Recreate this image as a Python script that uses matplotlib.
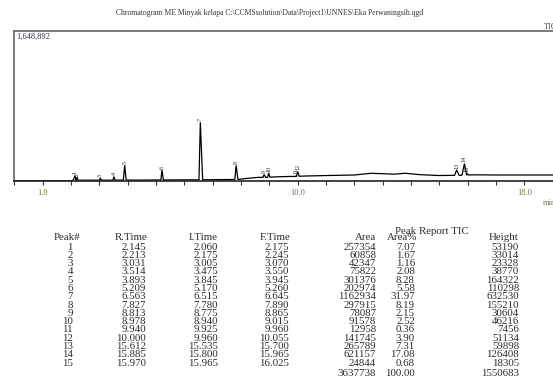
import matplotlib
matplotlib.use('Agg')
import matplotlib.pyplot as plt
from matplotlib.ticker import FixedLocator, MultipleLocator
import numpy as np

plt.rcParams['font.family'] = ['Liberation Serif', 'DejaVu Serif']

# peak report table
peak_no = [1, 2, 3, 4, 5, 6, 7, 8, 9, 10, 11, 12, 13, 14, 15]
r_time = [2.145, 2.213, 3.031, 3.514, 3.893, 5.209, 6.563, 7.827, 8.813, 8.978, 9.940, 10.000, 15.612, 15.885, 15.970]
i_time = [2.060, 2.175, 3.005, 3.475, 3.845, 5.170, 6.515, 7.780, 8.775, 8.940, 9.925, 9.960, 15.535, 15.800, 15.965]
f_time = [2.175, 2.245, 3.070, 3.550, 3.945, 5.260, 6.645, 7.890, 8.865, 9.015, 9.960, 10.055, 15.700, 15.965, 16.025]
area = [257354, 60858, 42347, 75822, 301376, 202974, 1162934, 297915, 78087, 91578, 12958, 141745, 265789, 621157, 24844]
area_pct = [7.07, 1.67, 1.16, 2.08, 8.28, 5.58, 31.97, 8.19, 2.15, 2.52, 0.36, 3.90, 7.31, 17.08, 0.68]
height = [53190, 33014, 23328, 38770, 164322, 110298, 632530, 155210, 30604, 46216, 7456, 51134, 59898, 126408, 18305]
total_area = 3637738
total_pct = 100.00
total_height = 1550683

# baseline level under each peak
peak_base = [4000, 8000, 9000, 9000, 10000, 11000, 13000, 16000, 40000, 42000, 50000, 52000, 62000, 64000, 66000]

# baseline of the trace between peaks
base_t = [0.0, 1.0, 1.9, 2.5, 2.9, 3.2, 3.4, 3.7, 4.5, 5.0, 5.5, 6.2, 6.9, 7.5, 8.1, 8.6, 9.2, 9.7,
          10.3, 11.0, 12.0, 12.6, 13.0, 13.4, 13.8, 14.3, 15.0, 15.4, 16.3, 17.0, 18.0, 20.0]
base_y = [3000, 3000, 4000, 9000, 9000, 9000, 9000, 10000, 10000, 11000, 12000, 13000, 14000, 16000,
          25000, 40000, 45000, 50000, 55000, 60000, 66000, 85000, 80000, 75000, 85000, 70000,
          60000, 62000, 68000, 66000, 66000, 66000]

full_scale = 1648892
title = r'Chromatogram ME Minyak kelapa C:\CCMSsolution\Data\Project1\UNNES\Eka Perwaningsih.qgd'

W, H = 553, 376
fig = plt.figure(figsize=(W / 100, H / 100), dpi=100)

def fx(px):
    return px / W

def fy(py):
    return 1 - py / H

# axes: x=0 at px 14.4, 28.33 px per minute, xlim 0..20 runs past the right edge
ax = fig.add_axes([fx(14.4), fy(181), fx(28.33 * 20), fy(31) - fy(181)])

# build trace points from baseline and peak table
pts = list(zip(base_t, base_y))
for i in range(len(peak_no)):
    pts.append((i_time[i], peak_base[i]))
    pts.append((r_time[i], peak_base[i] + height[i]))
    pts.append((f_time[i], peak_base[i]))
pts.sort(key=lambda p: p[0])
tt = [p[0] for p in pts]
yy = [p[1] for p in pts]
ax.plot(tt, yy, color='black', lw=0.9, solid_joinstyle='miter')

for i in range(len(peak_no)):
    ax.annotate(str(peak_no[i]), (r_time[i], peak_base[i] + height[i]),
                xytext=(0, 1), textcoords='offset points', rotation=90,
                ha='center', va='bottom', fontsize=4.3, color='#222222')

ax.set_xlim(0, 20)
ax.set_ylim(0, full_scale)
ax.set_yticks([])
ax.xaxis.set_major_locator(FixedLocator([1.0, 10.0, 18.0]))
ax.xaxis.set_minor_locator(MultipleLocator(1.0))
ax.set_xticklabels(['1.0', '10.0', '18.0'])
ax.tick_params(axis='x', which='both', direction='out', length=3, width=0.8, color='#333333',
               labelsize=6, labelcolor='#7a7048', pad=3)
for s in ['left', 'top', 'right']:
    ax.spines[s].set_color('#707070')
    ax.spines[s].set_linewidth(1.3)
ax.spines['bottom'].set_color('#222222')
ax.spines['bottom'].set_linewidth(1.2)

ax.text(0.004, 0.985, '1,648,892', transform=ax.transAxes, ha='left', va='top',
        fontsize=6, color='#333355')

fig.text(fx(270), fy(13), title, ha='center', va='center', fontsize=5.5, color='#333333')
fig.text(fx(544), fy(27), 'TIC', ha='left', va='center', fontsize=6, color='#554466')
fig.text(fx(543), fy(203), 'min', ha='left', va='center', fontsize=6, color='#7a7048')

# peak report table
tc = '#2a2a2a'
fs = 7.8
fig.text(fx(432), fy(231), 'Peak Report TIC', ha='center', va='center', fontsize=fs, color=tc)
headers = ['Peak#', 'R.Time', 'I.Time', 'F.Time', 'Area', 'Area%', 'Height']
head_x = [80, 147, 218, 290, 376, 417, 519]
val_x = [73, 146, 218, 289, 376, 415, 519]
for h, x in zip(headers, head_x):
    fig.text(fx(x), fy(238), h, ha='right', va='center', fontsize=fs, color=tc)

row_y0, row_dy = 247, 8.3
for i in range(len(peak_no)):
    y = fy(row_y0 + i * row_dy)
    vals = [str(peak_no[i]), '%.3f' % r_time[i], '%.3f' % i_time[i], '%.3f' % f_time[i],
            str(area[i]), '%.2f' % area_pct[i], str(height[i])]
    for v, x in zip(vals, val_x):
        fig.text(fx(x), y, v, ha='right', va='center', fontsize=fs, color=tc)

y = fy(373)
fig.text(fx(val_x[4]), y, str(total_area), ha='right', va='center', fontsize=fs, color=tc)
fig.text(fx(val_x[5]), y, '%.2f' % total_pct, ha='right', va='center', fontsize=fs, color=tc)
fig.text(fx(val_x[6]), y, str(total_height), ha='right', va='center', fontsize=fs, color=tc)

fig.savefig('out.png', dpi=100)
